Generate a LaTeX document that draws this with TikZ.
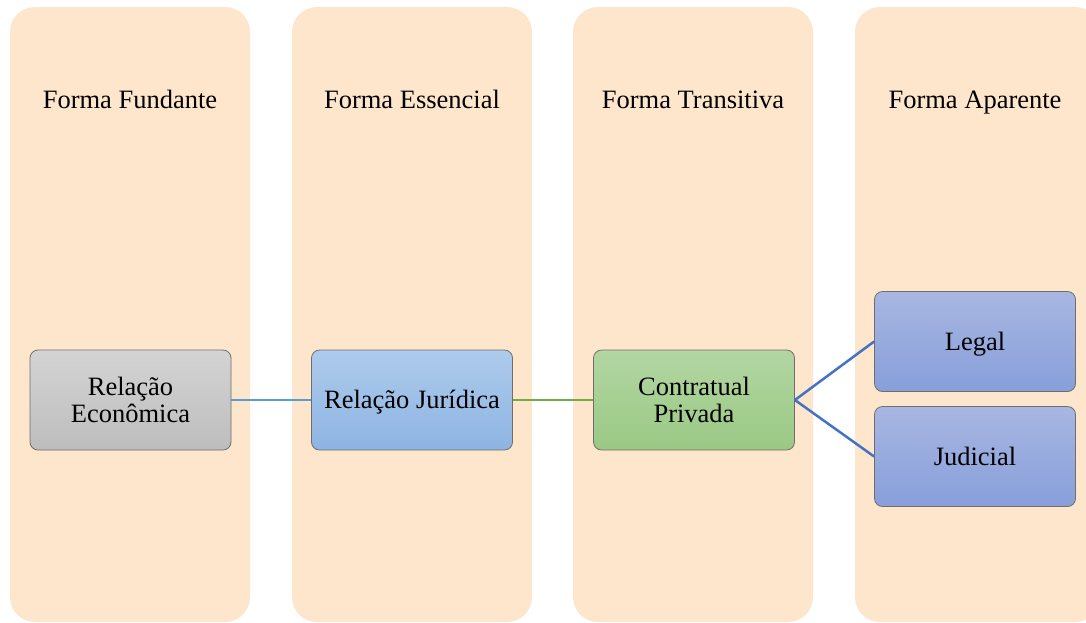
\documentclass[tikz,border=0pt]{standalone}
\usepackage{fontspec}
\setmainfont{Liberation Serif}
\definecolor{colfill}{HTML}{FDE6CB}
\definecolor{grayT}{HTML}{D4D4D4}
\definecolor{grayB}{HTML}{BDBDBD}
\definecolor{blueT}{HTML}{AECBEC}
\definecolor{blueB}{HTML}{8DB4E2}
\definecolor{greenT}{HTML}{B3D6A3}
\definecolor{greenB}{HTML}{9AC984}
\definecolor{indT}{HTML}{A8B6E1}
\definecolor{indB}{HTML}{889FDB}
\definecolor{boxline}{HTML}{6E6E6E}
\definecolor{lineA}{HTML}{5B9BD5}
\definecolor{lineB}{HTML}{70AD47}
\definecolor{lineC}{HTML}{4472C4}
\tikzset{
  column/.style={fill=colfill, draw=none, rounded corners=25pt},
  head/.style={font=\fontsize{26.5}{28}\selectfont, anchor=center, text height=17.5pt, text depth=0pt},
  box/.style={draw=boxline, line width=0.8pt, rounded corners=8pt, minimum width=201pt, minimum height=100pt, align=center, font=\fontsize{26.5}{27}\selectfont, shading angle=0},
  oneline/.style={text height=17.5pt, text depth=0pt},
  grayfill/.style={top color=grayT, bottom color=grayB},
  bluefill/.style={top color=blueT, bottom color=blueB},
  greenfill/.style={top color=greenT, bottom color=greenB},
  indfill/.style={top color=indT, bottom color=indB},
  conn/.style={line width=2.5pt}
}
\begin{document}
\begin{tikzpicture}[x=1pt,y=-1pt]
\useasboundingbox (0,0) rectangle (1086,622);
\clip (0,0) rectangle (1086,622);
\fill[white] (0,0) rectangle (1086,622);
\path[column] (10,7) rectangle (250,622);
\path[column] (292,7) rectangle (532,622);
\path[column] (573,7) rectangle (813,622);
\path[column] (855,7) rectangle (1100,622);
\node[head] (h1) at (130,100) {Forma Fundante};
\node[head] (h2) at (412,100) {Forma Essencial};
\node[head] (h3) at (693,100) {Forma Transitiva};
\node[head] (h4) at (975,100) {Forma Aparente};
\node[box, grayfill] (econ) at (130.5,400) {Relação\\Econômica};
\node[box, bluefill, oneline] (jur) at (412,400) {Relação Jurídica};
\node[box, greenfill] (contr) at (694,400) {Contratual\\Privada};
\node[box, indfill, oneline] (legal) at (975,341.5) {Legal};
\node[box, indfill, oneline] (judic) at (975,456.5) {Judicial};
\draw[conn, lineA] (econ.east) -- (jur.west);
\draw[conn, lineB] (jur.east) -- (contr.west);
\draw[conn, lineC] (contr.east) -- (legal.west);
\draw[conn, lineC] (contr.east) -- (judic.west);
\end{tikzpicture}
\end{document}
